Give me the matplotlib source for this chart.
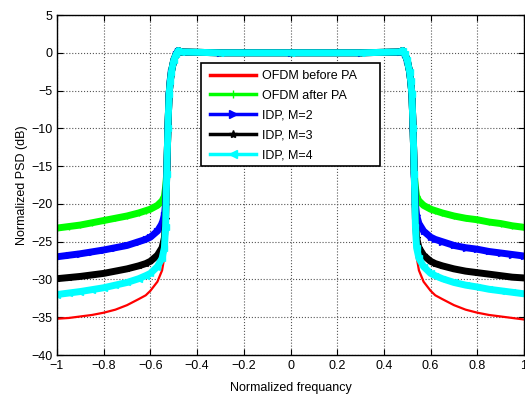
import matplotlib
matplotlib.use('Agg')
import matplotlib.pyplot as plt
from matplotlib.lines import Line2D
from matplotlib.patches import Rectangle

plt.rcParams['font.family'] = ['Liberation Sans', 'DejaVu Sans']

# normalized frequency grid
freq = [-1.0, -0.95, -0.9, -0.85, -0.8, -0.75, -0.7, -0.65, -0.62, -0.6, -0.57, -0.55,
        -0.54, -0.535, -0.53, -0.525, -0.52, -0.515, -0.51, -0.5, -0.49, -0.48, -0.47,
        -0.3, 0.0, 0.3,
        0.47, 0.48, 0.49, 0.5, 0.51, 0.515, 0.52, 0.525, 0.53, 0.535,
        0.54, 0.55, 0.57, 0.6, 0.62, 0.65, 0.7, 0.75, 0.8, 0.85, 0.9, 0.95, 1.0]

psd_before = [-35.2, -35.1, -34.9, -34.7, -34.4, -34.0, -33.4, -32.6, -32.1, -31.5, -30.3, -28.8,
              -27.0, -24.5, -18.0, -10.0, -5.5, -3.8, -2.5, -1.0, -0.2, 0.3, 0.1,
              0.0, 0.0, 0.0,
              0.1, 0.3, -0.2, -1.0, -2.5, -3.8, -5.5, -10.0, -18.0, -24.5,
              -27.0, -28.8, -30.3, -31.5, -32.1, -32.6, -33.4, -34.0, -34.4, -34.7, -34.9, -35.1, -35.3]
psd_after = [-23.2, -23.0, -22.8, -22.5, -22.2, -21.9, -21.6, -21.2, -20.9, -20.7, -20.2, -19.6,
             -19.0, -17.8, -16.0, -10.0, -5.5, -3.8, -2.5, -1.0, -0.2, 0.3, 0.1,
             0.0, 0.0, 0.0,
             0.1, 0.3, -0.2, -1.0, -2.5, -3.8, -5.5, -10.0, -16.0, -17.8,
             -19.0, -19.6, -20.2, -20.7, -20.9, -21.2, -21.6, -21.9, -22.1, -22.4, -22.6, -22.9, -23.1]
psd_m2 = [-27.0, -26.8, -26.6, -26.35, -26.1, -25.8, -25.5, -25.0, -24.7, -24.4, -23.6, -22.6,
          -21.5, -20.0, -16.0, -10.0, -5.5, -3.8, -2.5, -1.0, -0.2, 0.3, 0.1,
          0.0, 0.0, 0.0,
          0.1, 0.3, -0.2, -1.0, -2.5, -3.8, -5.5, -10.0, -16.0, -20.0,
          -21.5, -22.6, -23.6, -24.4, -24.7, -25.0, -25.5, -25.8, -26.0, -26.3, -26.5, -26.7, -26.9]
psd_m3 = [-29.9, -29.75, -29.6, -29.4, -29.2, -28.9, -28.6, -28.2, -27.9, -27.6, -26.8, -25.8,
          -24.5, -22.0, -16.0, -10.0, -5.5, -3.8, -2.5, -1.0, -0.2, 0.3, 0.1,
          0.0, 0.0, 0.0,
          0.1, 0.3, -0.2, -1.0, -2.5, -3.8, -5.5, -10.0, -16.0, -22.0,
          -24.5, -25.8, -26.8, -27.6, -27.9, -28.2, -28.6, -28.9, -29.1, -29.3, -29.5, -29.7, -29.8]
psd_m4 = [-32.0, -31.8, -31.6, -31.35, -31.1, -30.75, -30.4, -29.9, -29.5, -29.2, -28.3, -27.2,
          -25.8, -23.0, -16.0, -10.0, -5.5, -3.8, -2.5, -1.0, -0.2, 0.3, 0.1,
          0.0, 0.0, 0.0,
          0.1, 0.3, -0.2, -1.0, -2.5, -3.8, -5.5, -10.0, -16.0, -23.0,
          -25.8, -27.2, -28.3, -29.2, -29.5, -29.9, -30.4, -30.75, -31.0, -31.3, -31.5, -31.7, -31.9]

labels = ['OFDM before PA', 'OFDM after PA', 'IDP, M=2', 'IDP, M=3', 'IDP, M=4']
colors = ['#ff0000', '#00ff00', '#0000ff', '#000000', '#00ffff']
markers = [None, '+', '>', '*', '<']
series = [psd_before, psd_after, psd_m2, psd_m3, psd_m4]

fig = plt.figure(figsize=(5.25, 3.94), dpi=100)
ax = fig.add_axes([57 / 525, 1 - 355 / 394, 467 / 525, 340 / 394])

for s, c, m in zip(series, colors, markers):
    if m is None:
        ax.plot(freq, s, color=c, lw=1.6)
    else:
        ax.plot(freq, s, color=c, lw=5, marker=m, ms=4, mec=c)

ax.set_xlim(-1, 1)
ax.set_ylim(-40, 5)
ax.set_xticks([-1, -0.8, -0.6, -0.4, -0.2, 0, 0.2, 0.4, 0.6, 0.8, 1])
ax.set_xticklabels(['\u22121', '\u22120.8', '\u22120.6', '\u22120.4', '\u22120.2',
                    '0', '0.2', '0.4', '0.6', '0.8', '1'])
ax.set_yticks(range(-40, 6, 5))
ax.grid(True, ls=':', color='#555555', lw=0.8)
ax.tick_params(direction='in', length=4, top=True, right=True, labelsize=9, width=0.8)
for sp in ax.spines.values():
    sp.set_linewidth(1.0)

ax.set_xlabel('Normalized frequancy', fontsize=9, labelpad=7)
ax.set_ylabel('Normalized PSD (dB)', fontsize=9, labelpad=2)

# legend box drawn separately so it can be as wide as the original
box = Rectangle((0.308, 0.556), 0.384, 0.303, transform=ax.transAxes,
                facecolor='white', edgecolor='black', lw=1.2, zorder=5)
ax.add_patch(box)

handles = []
for lab, c, m in zip(labels, colors, markers):
    handles.append(Line2D([], [], color=c, lw=2.5, marker=m, ms=6, mec=c, label=lab))
leg = ax.legend(handles=handles, loc='upper left', bbox_to_anchor=(0.327, 0.838),
                fontsize=9, frameon=False, borderpad=0, labelspacing=0.62,
                handlelength=3.68, handletextpad=0.48, borderaxespad=0)
leg.set_zorder(6)

fig.savefig('out.png', dpi=100)
